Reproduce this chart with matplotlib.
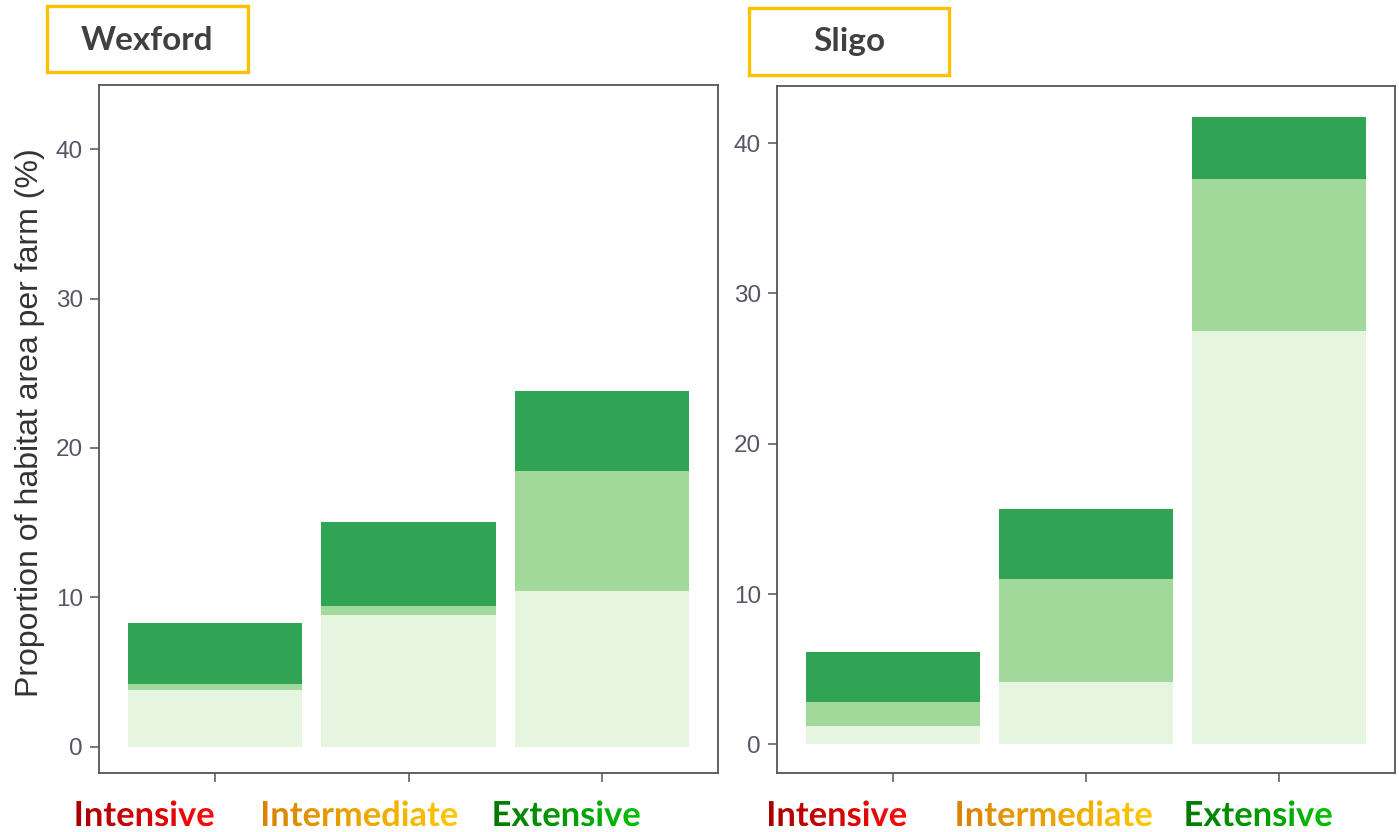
import numpy as np
import matplotlib
matplotlib.use("Agg")
import matplotlib.pyplot as plt
from matplotlib.patches import Rectangle, PathPatch
from matplotlib.textpath import TextPath
from matplotlib.font_manager import FontProperties
from matplotlib.transforms import Affine2D
from matplotlib.colors import LinearSegmentedColormap

# data (stacked segments, %)
categories = ["Intensive", "Intermediate", "Extensive"]
regions = ["Wexford", "Sligo"]
wexford_light = [3.82, 8.79, 10.40]
wexford_mid = [0.40, 0.65, 8.03]
wexford_dark = [4.04, 5.62, 5.36]
sligo_light = [1.24, 4.17, 27.50]
sligo_mid = [1.59, 6.81, 10.11]
sligo_dark = [3.33, 4.66, 4.11]
yticks = [0, 10, 20, 30, 40]

label_colors = {"Intensive": ("#a80000", "#ff0a0a"),
                "Intermediate": ("#d98200", "#ffc800"),
                "Extensive": ("#007a00", "#00c000")}
greens = ["#e5f5e0", "#a1d99b", "#31a354"]

W, H = 1399, 832
fig = plt.figure(figsize=(W / 100, H / 100), dpi=100)
fig.patch.set_facecolor("white")


def px_axes(x0, x1, ytop, ybot):
    return fig.add_axes([x0 / W, (H - ybot) / H, (x1 - x0) / W, (ybot - ytop) / H])


ax1 = px_axes(99, 718, 85, 773)
ax2 = px_axes(777, 1395, 86, 773)

panels = [(ax1, [wexford_light, wexford_mid, wexford_dark], (-1.76, 44.3)),
          (ax2, [sligo_light, sligo_mid, sligo_dark], (-1.9, 43.8))]

x = np.arange(1, len(categories) + 1)
for ax, segs, ylim in panels:
    bottom = np.zeros(len(categories))
    for vals, col in zip(segs, greens):
        ax.bar(x, vals, width=0.9, bottom=bottom, color=col, edgecolor="none")
        bottom += np.array(vals)
    ax.set_xlim(0.4, 3.6)
    ax.set_ylim(*ylim)
    ax.set_xticks(x)
    ax.set_xticklabels([])
    ax.set_yticks(yticks)
    ax.tick_params(axis="both", direction="out", length=6.5, width=1.1,
                   color="#555555", labelsize=17.5, labelcolor="#555566", pad=5)
    for lab in ax.get_yticklabels():
        lab.set_family("Liberation Sans")
    for sp in ax.spines.values():
        sp.set_color("#555555")
        sp.set_linewidth(1.3)

fig.text(30 / W, (H - 423) / H, "Proportion of habitat area per farm (%)",
         rotation=90, ha="center", va="center", fontsize=23,
         family="Liberation Sans", color="#333333")

# overlay in pixel coordinates for the boxes and coloured labels
ov = fig.add_axes([0, 0, 1, 1])
ov.set_axis_off()

title_boxes = [(47, 248, 6, 72, 147, "Wexford"), (749, 949, 8, 75, 849, "Sligo")]
for bx0, bx1, by0, by1, tx, name in title_boxes:
    ov.add_patch(Rectangle((bx0, H - by1), bx1 - bx0, by1 - by0, facecolor="white",
                           edgecolor="#ffc000", linewidth=2.4))
    ov.text(tx, H - 41, name, ha="center", va="center", fontsize=24,
            fontweight="bold", family="Lato", color="#404040")

fp = FontProperties(family="Lato", weight="bold")


def gradient_label(cx, base, s, c0, c1, size=34.5):
    tp = TextPath((0, 0), s, size=size, prop=fp)
    bb = tp.get_extents()
    tp = tp.transformed(Affine2D().translate(cx - (bb.x0 + bb.x1) / 2, base))
    patch = PathPatch(tp, facecolor="none", edgecolor="none")
    ov.add_patch(patch)
    bb = tp.get_extents()
    cmap = LinearSegmentedColormap.from_list(s, [c0, c1])
    im = ov.imshow(np.linspace(0, 1, 256).reshape(1, -1), cmap=cmap, aspect="auto",
                   extent=[bb.x0, bb.x1, bb.y0, bb.y1], interpolation="bilinear")
    im.set_clip_path(patch)


label_x = [[145, 360, 567], [837.5, 1054.5, 1259]]
for xs in label_x:
    for cx, cat in zip(xs, categories):
        c0, c1 = label_colors[cat]
        gradient_label(cx, H - 826, cat, c0, c1)

ov.set_xlim(0, W)
ov.set_ylim(0, H)

fig.savefig("out.png", dpi=100)
